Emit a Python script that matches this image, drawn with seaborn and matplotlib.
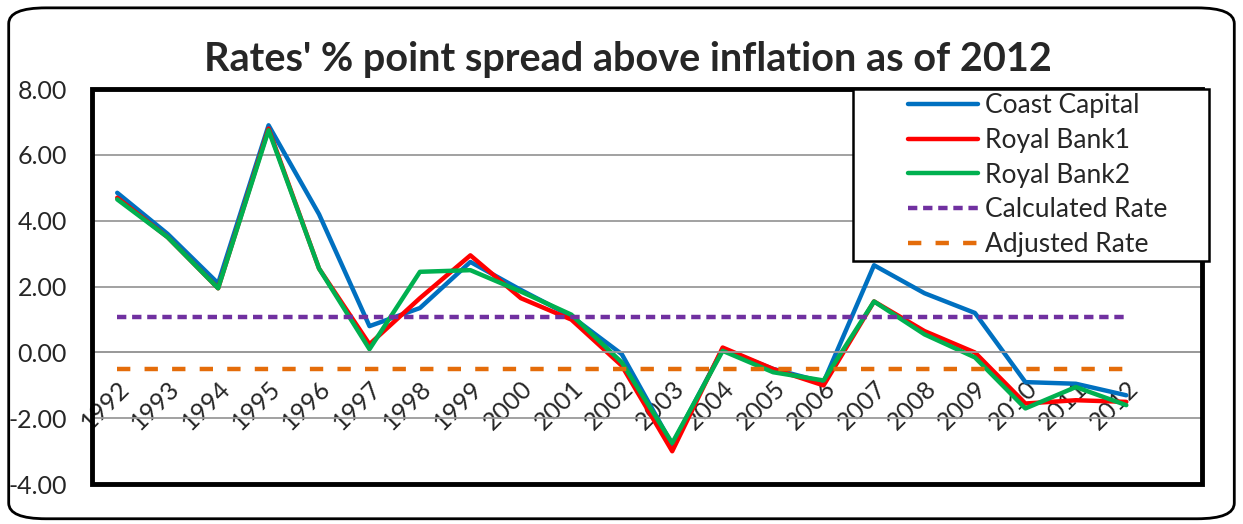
import numpy as np
import pandas as pd
import matplotlib
matplotlib.use("Agg")
import matplotlib.pyplot as plt
from matplotlib.patches import FancyBboxPatch, Rectangle
import seaborn as sns

years = list(range(1992, 2013))
coast_capital = [4.85, 3.6, 2.1, 6.9, 4.2, 0.8, 1.35, 2.75, 1.9, 1.1, -0.05, -2.8, 0.1,
                 -0.5, -0.9, 2.65, 1.8, 1.2, -0.9, -0.95, -1.3]
royal_bank1 = [4.7, 3.5, 1.95, 6.8, 2.55, 0.25, 1.65, 2.95, 1.65, 1.0, -0.4, -3.0, 0.15,
               -0.5, -1.0, 1.55, 0.65, 0.0, -1.55, -1.45, -1.5]
royal_bank2 = [4.65, 3.5, 1.95, 6.75, 2.55, 0.1, 2.45, 2.5, 1.85, 1.15, -0.3, -2.75, 0.05,
               -0.6, -0.85, 1.55, 0.55, -0.15, -1.7, -1.05, -1.6]
calculated_rate = [1.07] * len(years)
adjusted_rate = [-0.5] * len(years)

series = {
    "Coast Capital": coast_capital,
    "Royal Bank1": royal_bank1,
    "Royal Bank2": royal_bank2,
    "Calculated Rate": calculated_rate,
    "Adjusted Rate": adjusted_rate,
}
colors = {"Coast Capital": "#0070C0", "Royal Bank1": "#FF0000", "Royal Bank2": "#00B050",
          "Calculated Rate": "#7030A0", "Adjusted Rate": "#E46C0A"}
dashes = {"Coast Capital": "", "Royal Bank1": "", "Royal Bank2": "",
          "Calculated Rate": (2.1, 1.3), "Adjusted Rate": (3.0, 3.2)}

df = pd.DataFrame({"pos": np.arange(len(years))})
for k, v in series.items():
    df[k] = v
long = df.melt(id_vars="pos", var_name="Series", value_name="Value")

sns.set_style("white")
plt.rcParams["font.family"] = ["Lato", "DejaVu Sans"]

fig = plt.figure(figsize=(12.43, 5.24), dpi=100)
ax = fig.add_axes([0.074, 0.076, 0.893, 0.754])

sns.lineplot(data=long, x="pos", y="Value", hue="Series", style="Series",
             palette=colors, dashes=dashes, linewidth=3.2, ax=ax)

ax.set_xlim(-0.5, 21.5)
ax.set_ylim(-4, 8)
ax.set_yticks(np.arange(-4, 9, 2))
ax.set_yticklabels([f"{v:.2f}" for v in np.arange(-4, 9, 2)], fontsize=18)
ax.yaxis.grid(True, color="#9a9a9a", linewidth=1.3)
ax.set_axisbelow(True)
ax.set_xlabel("")
ax.set_ylabel("")
ax.tick_params(axis="y", length=0, pad=18)

# category axis crosses at zero
ax.spines["bottom"].set_position(("data", 0))
ax.spines["bottom"].set_color("#9a9a9a")
ax.spines["bottom"].set_linewidth(1.3)
ax.set_xticks(np.arange(0, 22))
ax.set_xticklabels([str(y) for y in years] + [""], rotation=45, ha="right",
                   rotation_mode="anchor", fontsize=18)
ax.tick_params(axis="x", direction="in", length=6, width=1.3, color="#9a9a9a", pad=17)
for s in ["left", "top", "right"]:
    ax.spines[s].set_visible(False)
ax.add_patch(Rectangle((0, 0), 1, 1, transform=ax.transAxes, fill=False,
                       edgecolor="black", linewidth=3.5, clip_on=False, zorder=5))

# legend box drawn separately (wide side margins like the original)
handles, labels = ax.get_legend_handles_labels()
box = Rectangle((0.6856, 0.5637), 0.3204, 0.4363, transform=ax.transAxes,
                facecolor="white", edgecolor="black", linewidth=1.8,
                clip_on=False, zorder=6)
ax.add_patch(box)
leg = ax.legend(handles, labels, loc="upper left", bbox_to_anchor=(0.7315, 1.0),
                fontsize=19, frameon=False, handlelength=2.65,
                borderpad=0.15, labelspacing=0.37, handletextpad=0.27, borderaxespad=0)
leg.set_zorder(7)
for line in leg.get_lines():
    line.set_linewidth(3.2)

fig.text(0.505, 0.887, "Rates' % point spread above inflation as of 2012",
         ha="center", va="center", fontsize=28.5, fontweight="bold")

fig.patches.append(FancyBboxPatch((0.007, 0.01), 0.986, 0.975,
                                  boxstyle="round,pad=0,rounding_size=0.03",
                                  transform=fig.transFigure, fill=False,
                                  edgecolor="black", linewidth=2))

fig.savefig("out.png", dpi=100)
